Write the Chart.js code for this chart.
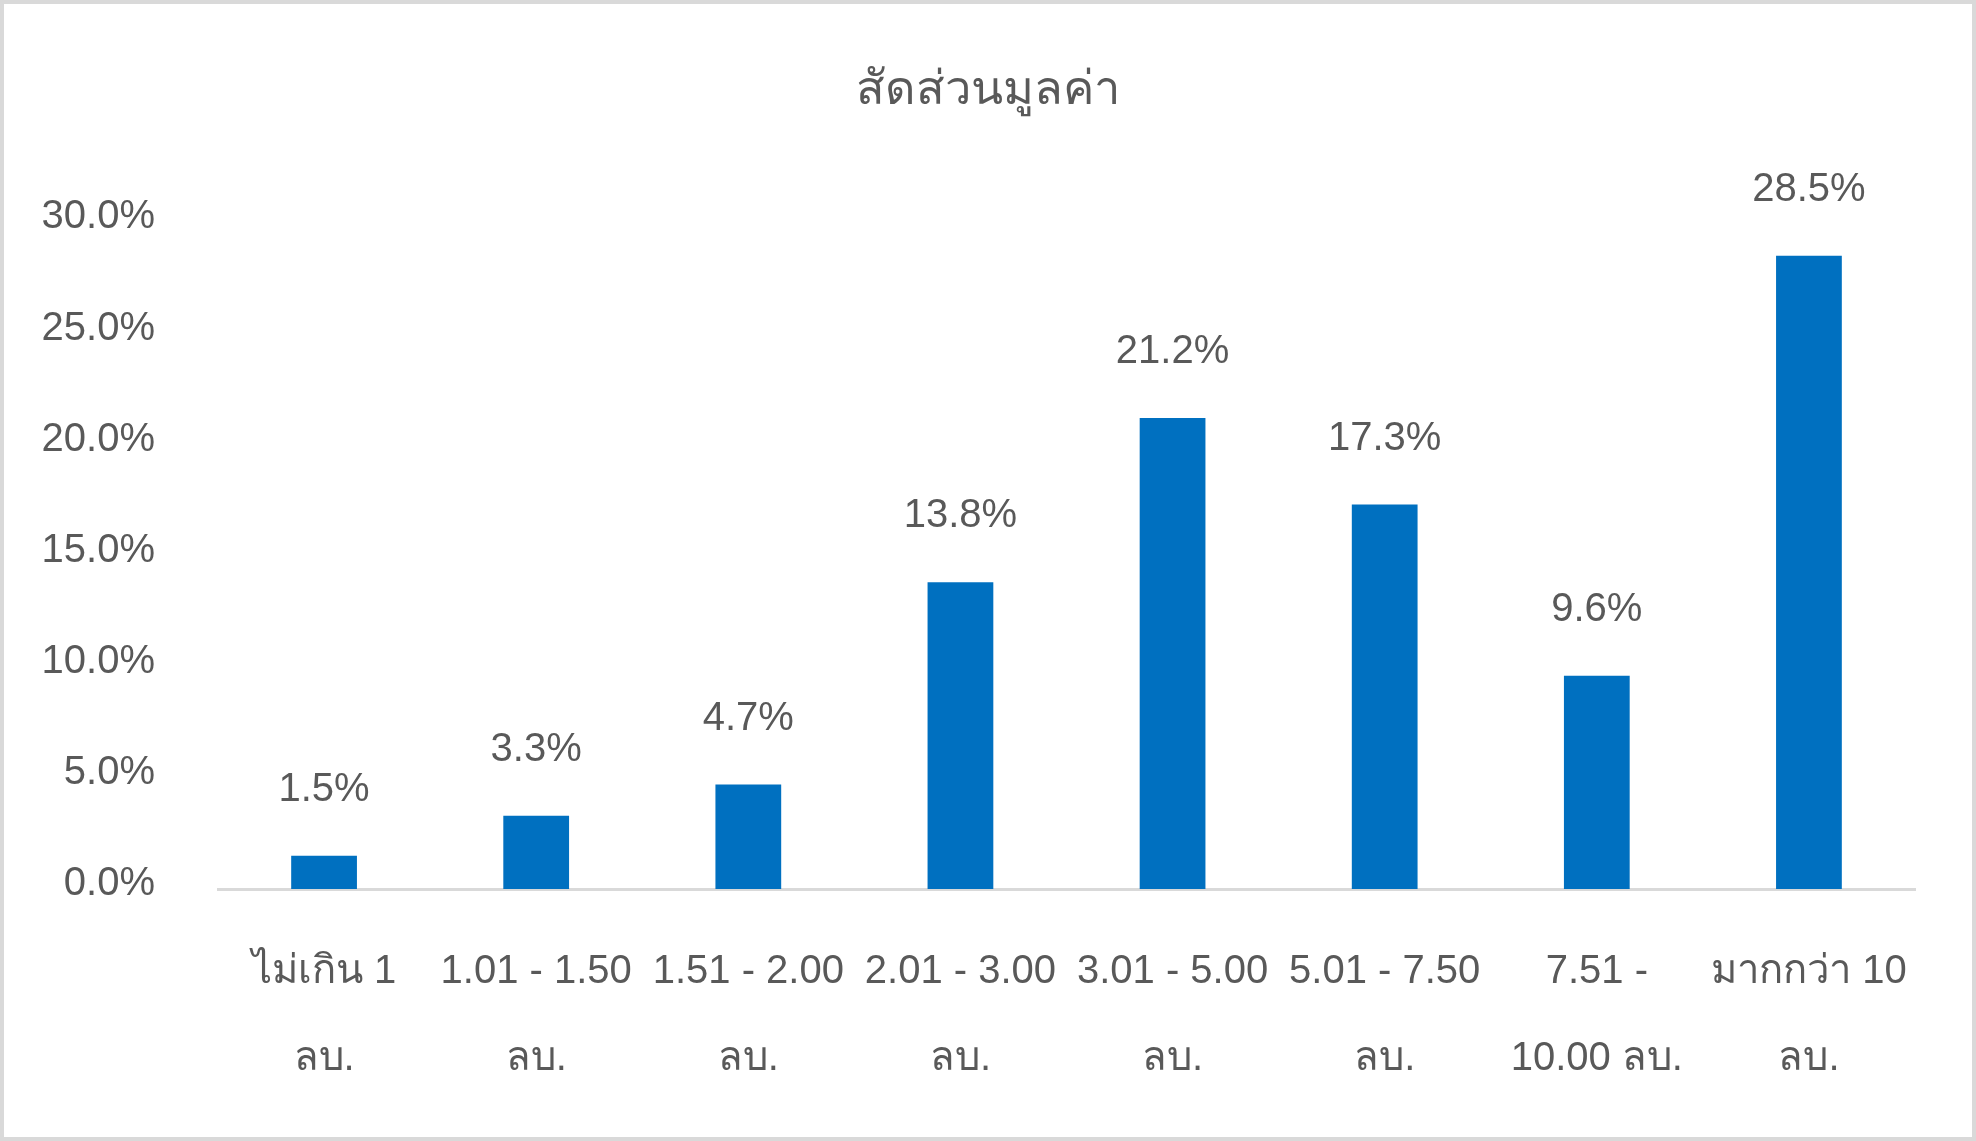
<!DOCTYPE html>
<html>
<head>
<meta charset="utf-8">
<script src="https://cdn.jsdelivr.net/npm/chart.js@4.4.1/dist/chart.umd.min.js"></script>
<style>
  html, body { margin: 0; padding: 0; background: #fff; }
  #wrap { width: 1976px; height: 1141px; box-sizing: border-box; border: 4px solid #d9d9d9; background: #fff; }
  canvas { display: block; }
</style>
</head>
<body>
<div id="wrap"><canvas id="chart" width="1968" height="1133"></canvas></div>
<script>
const categories = [
  ["ไม่เกิน 1", "ลบ."],
  ["1.01 - 1.50", "ลบ."],
  ["1.51 - 2.00", "ลบ."],
  ["2.01 - 3.00", "ลบ."],
  ["3.01 - 5.00", "ลบ."],
  ["5.01 - 7.50", "ลบ."],
  ["7.51 -", "10.00 ลบ."],
  ["มากกว่า 10", "ลบ."]
];
const shares = [1.5, 3.3, 4.7, 13.8, 21.2, 17.3, 9.6, 28.5];
const chartTitle = "สัดส่วนมูลค่า";

const textColor = "#595959";
const fontFamily = "'Liberation Sans', Arial, sans-serif";

// value labels above each bar
const barLabels = {
  id: "barLabels",
  afterDatasetsDraw(chart) {
    const ctx = chart.ctx;
    const meta = chart.getDatasetMeta(0);
    ctx.save();
    ctx.font = "40px " + fontFamily;
    ctx.fillStyle = textColor;
    ctx.textAlign = "center";
    ctx.textBaseline = "middle";
    meta.data.forEach((bar, i) => {
      ctx.fillText(shares[i].toFixed(1) + "%", bar.x, bar.y - 66);
    });
    ctx.restore();
  }
};

new Chart(document.getElementById("chart"), {
  type: "bar",
  data: {
    labels: categories,
    datasets: [{
      data: shares,
      backgroundColor: "#0070c0",
      barPercentage: 0.31,
      categoryPercentage: 1
    }]
  },
  options: {
    responsive: false,
    animation: false,
    layout: { padding: 0 },
    plugins: {
      legend: { display: false },
      tooltip: { enabled: false },
      title: {
        display: true,
        text: chartTitle,
        color: textColor,
        font: { family: fontFamily, size: 47, weight: "normal", lineHeight: 1.2 },
        padding: { top: 59, bottom: 103 }
      }
    },
    scales: {
      x: {
        grid: { display: false },
        border: { display: true, color: "#d9d9d9", width: 3 },
        ticks: {
          color: textColor,
          maxRotation: 0,
          autoSkip: false,
          padding: 31,
          font: { family: fontFamily, size: 40, lineHeight: 2.175 }
        },
        afterFit(scale) { scale.height = 248; }
      },
      y: {
        min: 0,
        max: 30,
        grid: { display: false },
        border: { display: false },
        ticks: {
          stepSize: 5,
          color: textColor,
          padding: 55,
          labelOffset: -5,
          font: { family: fontFamily, size: 40 },
          callback: (v) => v.toFixed(1) + "%"
        },
        afterFit(scale) { scale.width = 214; }
      },
      // empty right margin so the title stays centred on the canvas
      spacer: {
        type: "linear",
        position: "right",
        grid: { display: false },
        border: { display: false },
        ticks: { display: false },
        afterFit(scale) { scale.width = 57; }
      }
    }
  },
  plugins: [barLabels]
});
</script>
</body>
</html>
